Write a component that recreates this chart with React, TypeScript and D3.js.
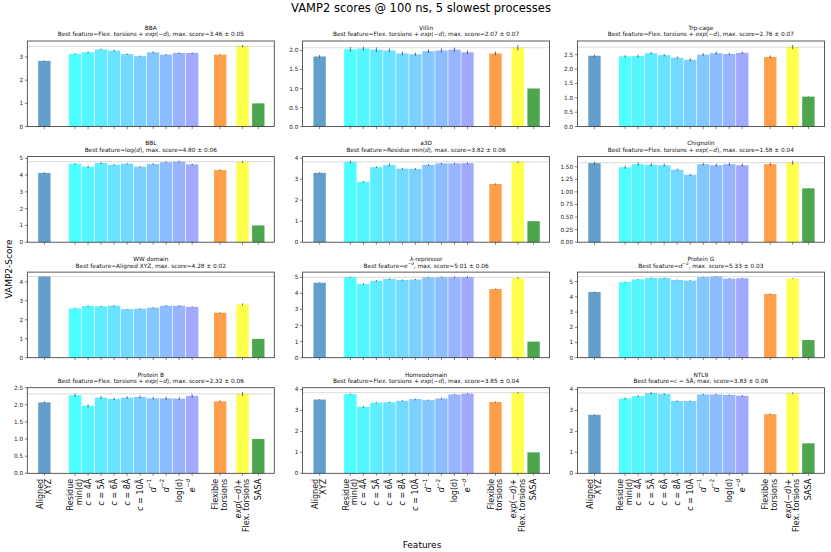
import React from "react";
import * as d3 from "d3";

// ---------- data ----------
const FEATURE_LABELS: string[][] = [
  ["Aligned", "XYZ"],
  ["Residue", "min(d)"],
  ["*c* = 4Å"],
  ["*c* = 5Å"],
  ["*c* = 6Å"],
  ["*c* = 8Å"],
  ["*c* = 10Å"],
  ["*d*^−1^"],
  ["*d*^−2^"],
  ["log(d)"],
  ["*e*^−*d*^"],
  ["Flexible", "torsions"],
  ["*exp*(−*d*)+", "Flex. torsions"],
  ["SASA"],
];
// category positions along the x axis (data units)
const XPOS = [0, 2.36, 3.36, 4.36, 5.36, 6.36, 7.36, 8.36, 9.36, 10.36, 11.36, 13.51, 15.23, 16.44];
const XLIM = [-1.31, 17.67];
const BAR_W = 0.95;

const PROTEINS = ["BBA", "Villin", "Trp-cage", "BBL", "a3D", "Chignolin", "WW domain", "*λ*-repressor", "Protein G", "Protein B", "Homeodomain", "NTL9"];
const BEST_FEATURE = [
  "Flex. torsions + *exp*(−*d*)",
  "Flex. torsions + *exp*(−*d*)",
  "Flex. torsions + *exp*(−*d*)",
  "log(*d*)",
  "Residue min(*d*)",
  "Flex. torsions + *exp*(−*d*)",
  "Aligned XYZ",
  "*e*^−*d*^",
  "*d*^−2^",
  "Flex. torsions + *exp*(−*d*)",
  "Flex. torsions + *exp*(−*d*)",
  "*c* = 5Å",
];
const BEST_SCORE = [3.46, 2.07, 2.76, 4.8, 3.82, 1.58, 4.28, 5.01, 5.33, 2.32, 3.85, 3.83];
const BEST_ERR = [0.05, 0.07, 0.07, 0.06, 0.06, 0.04, 0.02, 0.06, 0.03, 0.06, 0.04, 0.06];
const Y_STEP = [1, 0.5, 0.5, 1, 1, 0.25, 1, 1, 1, 0.5, 1, 1];

const BBA = [2.83, 3.13, 3.2, 3.32, 3.27, 3.12, 3.03, 3.2, 3.1, 3.17, 3.17, 3.1, 3.46, 1.0];
const BBA_ERR = [0.02, 0.03, 0.04, 0.03, 0.04, 0.03, 0.03, 0.04, 0.03, 0.03, 0.03, 0.02, 0.05, 0.01];
const VILLIN = [1.84, 2.03, 2.05, 2.02, 2.0, 1.92, 1.9, 1.98, 2.0, 2.02, 1.95, 1.92, 2.07, 1.0];
const VILLIN_ERR = [0.04, 0.06, 0.05, 0.06, 0.05, 0.05, 0.04, 0.05, 0.05, 0.05, 0.05, 0.05, 0.07, 0.005];
const TRPCAGE = [2.46, 2.44, 2.45, 2.55, 2.48, 2.39, 2.32, 2.5, 2.55, 2.52, 2.56, 2.42, 2.76, 1.04];
const TRPCAGE_ERR = [0.04, 0.04, 0.05, 0.04, 0.04, 0.04, 0.05, 0.05, 0.05, 0.04, 0.04, 0.05, 0.07, 0.01];
const BBL = [4.13, 4.68, 4.5, 4.72, 4.62, 4.68, 4.5, 4.66, 4.77, 4.8, 4.64, 4.3, 4.79, 1.0];
const BBL_ERR = [0.04, 0.04, 0.06, 0.05, 0.04, 0.04, 0.04, 0.05, 0.05, 0.06, 0.05, 0.04, 0.06, 0.01];
const A3D = [3.3, 3.82, 2.88, 3.57, 3.68, 3.5, 3.49, 3.68, 3.75, 3.75, 3.76, 2.77, 3.81, 1.0];
const A3D_ERR = [0.03, 0.06, 0.04, 0.04, 0.05, 0.04, 0.04, 0.04, 0.04, 0.04, 0.04, 0.03, 0.04, 0.01];
const CHIGNOLIN = [1.57, 1.49, 1.55, 1.54, 1.53, 1.44, 1.34, 1.55, 1.53, 1.55, 1.53, 1.55, 1.58, 1.07];
const CHIGNOLIN_ERR = [0.03, 0.03, 0.03, 0.03, 0.03, 0.02, 0.02, 0.03, 0.03, 0.03, 0.03, 0.03, 0.04, 0.005];
const WW = [4.28, 2.6, 2.72, 2.71, 2.74, 2.56, 2.58, 2.64, 2.74, 2.74, 2.68, 2.37, 2.81, 0.99];
const WW_ERR = [0.02, 0.03, 0.04, 0.03, 0.03, 0.02, 0.03, 0.03, 0.04, 0.04, 0.03, 0.03, 0.05, 0.01];
const LAMBDA = [4.66, 5.0, 4.58, 4.78, 4.9, 4.83, 4.86, 4.99, 5.0, 5.0, 5.01, 4.27, 4.95, 1.0];
const LAMBDA_ERR = [0.03, 0.04, 0.05, 0.05, 0.04, 0.04, 0.04, 0.04, 0.04, 0.05, 0.06, 0.03, 0.05, 0.01];
const PROTG = [4.32, 4.98, 5.15, 5.24, 5.24, 5.11, 5.07, 5.3, 5.33, 5.2, 5.22, 4.19, 5.2, 1.16];
const PROTG_ERR = [0.03, 0.03, 0.03, 0.03, 0.03, 0.03, 0.03, 0.03, 0.03, 0.03, 0.03, 0.03, 0.03, 0.01];
const PROTB = [2.07, 2.28, 1.97, 2.21, 2.17, 2.21, 2.23, 2.19, 2.19, 2.18, 2.26, 2.1, 2.32, 1.0];
const PROTB_ERR = [0.03, 0.05, 0.04, 0.04, 0.04, 0.04, 0.04, 0.04, 0.05, 0.04, 0.05, 0.03, 0.06, 0.005];
const HOMEO = [3.52, 3.78, 3.17, 3.37, 3.39, 3.46, 3.54, 3.49, 3.57, 3.76, 3.8, 3.4, 3.85, 1.0];
const HOMEO_ERR = [0.02, 0.03, 0.04, 0.03, 0.03, 0.03, 0.03, 0.03, 0.04, 0.03, 0.03, 0.03, 0.04, 0.005];
const NTL9 = [2.79, 3.57, 3.68, 3.83, 3.78, 3.45, 3.45, 3.76, 3.76, 3.74, 3.7, 2.82, 3.82, 1.43];
const NTL9_ERR = [0.03, 0.05, 0.04, 0.06, 0.04, 0.03, 0.03, 0.04, 0.04, 0.03, 0.04, 0.03, 0.04, 0.01];

const SCORES = [BBA, VILLIN, TRPCAGE, BBL, A3D, CHIGNOLIN, WW, LAMBDA, PROTG, PROTB, HOMEO, NTL9];
const ERRORS = [BBA_ERR, VILLIN_ERR, TRPCAGE_ERR, BBL_ERR, A3D_ERR, CHIGNOLIN_ERR, WW_ERR, LAMBDA_ERR, PROTG_ERR, PROTB_ERR, HOMEO_ERR, NTL9_ERR];

// ---------- styling ----------
const FONT = "DejaVu Sans";
const mix = (c: number[], a: number) => `rgb(${c.map((v) => Math.round(255 * (1 - a) + v * a)).join(",")})`;
const coolAt = (t: number) => mix([255 * t, 255 * (1 - t), 255], 0.7);
const BAR_COLORS = [
  mix([31, 119, 180], 0.7),
  ...d3.range(10).map((i) => coolAt(i / 19)),
  mix([255, 127, 14], 0.75),
  mix([255, 255, 0], 0.7),
  mix([0, 128, 0], 0.7),
];

function rich(s: string, fs: number) {
  const segs: { t: string; it: boolean; sup: boolean }[] = [];
  let it = false, sup = false, buf = "";
  for (const ch of s) {
    if (ch === "*" || ch === "^") {
      if (buf) segs.push({ t: buf, it, sup });
      buf = "";
      if (ch === "*") it = !it;
      else sup = !sup;
    } else buf += ch;
  }
  if (buf) segs.push({ t: buf, it, sup });
  let cur = 0;
  return segs.map((g, i) => {
    const target = g.sup ? -fs * 0.42 : 0;
    const dy = target - cur;
    cur = target;
    return (
      <tspan key={i} dy={dy} fontStyle={g.it ? "italic" : "normal"} fontSize={g.sup ? fs * 0.72 : fs}>
        {g.t}
      </tspan>
    );
  });
}

export default function App() {
  const axW = 247;
  const axH = 85.6;
  const colLeft = [27.3, 302.6, 577.4];
  const rowTop = [41, 156.6, 272.1, 387.7];
  const x = d3.scaleLinear().domain(XLIM).range([0, axW]);
  const bw = x(BAR_W) - x(0);
  const tickFs = 5.7;
  const spine = "#333";

  return (
    <svg width={831} height={552} style={{ position: "absolute", left: 0, top: 0, display: "block", background: "#fff" }} fontFamily={FONT}>
      <rect width={831} height={552} fill="#fff" />
      <text x={421} y={11.6} fontSize={11.5} textAnchor="middle" fill="#000">
        VAMP2 scores @ 100 ns, 5 slowest processes
      </text>
      <text transform={`translate(9,269) rotate(-90)`} fontSize={9} textAnchor="middle" dominantBaseline="central" fill="#000">
        VAMP2-Score
      </text>
      <text x={422} y={548} fontSize={9} textAnchor="middle" fill="#000">
        Features
      </text>
      {PROTEINS.map((name, p) => {
        const col = p % 3;
        const row = Math.floor(p / 3);
        const vals = SCORES[p];
        const errs = ERRORS[p];
        const top = 1.05 * (d3.max(vals.map((v, i) => v + errs[i])) as number);
        const y = d3.scaleLinear().domain([0, top]).range([axH, 0]);
        const step = Y_STEP[p];
        const ticks = d3.range(0, top + 0.01, step);
        const fmt = d3.format(step === 1 ? ".0f" : step === 0.5 ? ".1f" : ".2f");
        const sub = `Best feature=${BEST_FEATURE[p]}, max. score=${BEST_SCORE[p].toFixed(2)} ± ${BEST_ERR[p].toFixed(2)}`;
        return (
          <g key={p} transform={`translate(${colLeft[col]},${rowTop[row]})`}>
            <text x={axW / 2} y={-11.2} fontSize={5.8} textAnchor="middle" fill="#111">
              {rich(name, 5.8)}
            </text>
            <text x={axW / 2} y={-4.6} fontSize={5.8} textAnchor="middle" fill="#111">
              {rich(sub, 5.8)}
            </text>
            {vals.map((v, i) => (
              <rect key={i} x={x(XPOS[i]) - bw / 2} y={y(v)} width={bw} height={axH - y(v)} fill={BAR_COLORS[i]} />
            ))}
            {vals.map((v, i) => (
              <line key={"e" + i} x1={x(XPOS[i])} x2={x(XPOS[i])} y1={y(v - errs[i])} y2={y(v + errs[i])} stroke="#444" strokeWidth={0.8} />
            ))}
            <line x1={0} x2={axW} y1={y(BEST_SCORE[p])} y2={y(BEST_SCORE[p])} stroke="#888" strokeWidth={0.6} strokeDasharray="1,1" />
            <rect x={0} y={0} width={axW} height={axH} fill="none" stroke={spine} strokeWidth={0.8} />
            {ticks.map((t) => (
              <g key={"t" + t}>
                <line x1={-2.5} x2={0} y1={y(t)} y2={y(t)} stroke={spine} strokeWidth={0.6} />
                <text x={-4.3} y={y(t)} fontSize={tickFs} textAnchor="end" dominantBaseline="central" fill="#222">
                  {fmt(t)}
                </text>
              </g>
            ))}
            {XPOS.map((xp, i) => (
              <line key={"xt" + i} x1={x(xp)} x2={x(xp)} y1={axH} y2={axH + 2.5} stroke={spine} strokeWidth={0.6} />
            ))}
            {row === 3 &&
              FEATURE_LABELS.map((lines, i) => (
                <g key={"xl" + i}>
                  {lines.map((ln, j) => {
                    const cx = x(XPOS[i]) + (j - (lines.length - 1) / 2) * 8.6 - 0.5;
                    return (
                      <text key={j} transform={`translate(${cx},${axH + 5.5}) rotate(-90)`} fontSize={8} textAnchor="end" dominantBaseline="central" fill="#111">
                        {rich(ln, 8)}
                      </text>
                    );
                  })}
                </g>
              ))}
          </g>
        );
      })}
    </svg>
  );
}
